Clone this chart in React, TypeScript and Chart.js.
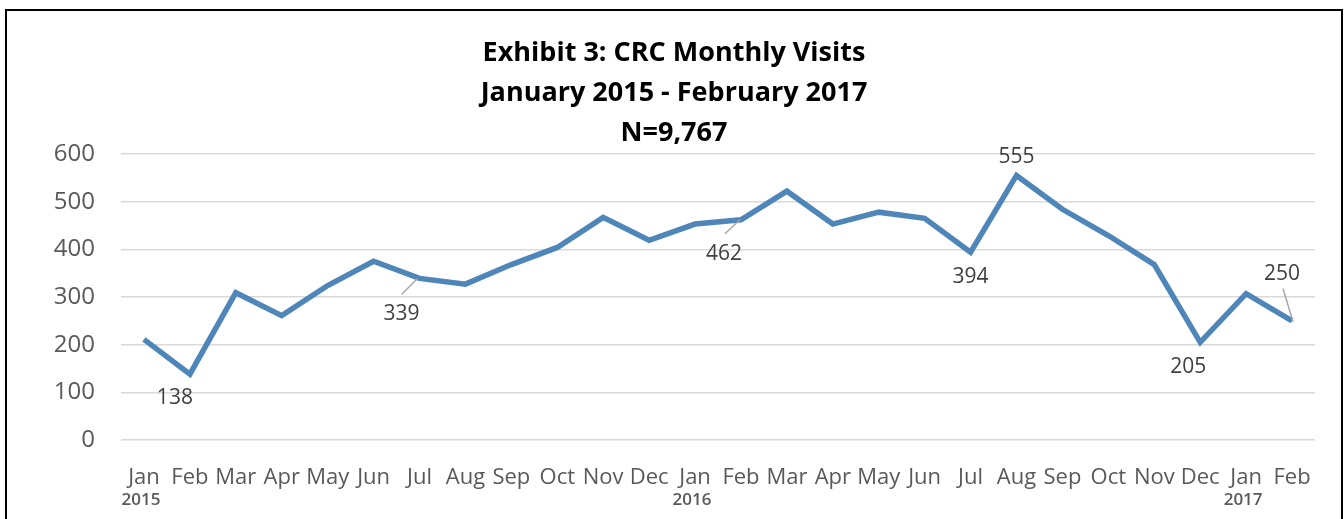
import React, { useEffect, useRef } from "react";
import { Chart, registerables } from "chart.js";

Chart.register(...registerables);

const months = ["Jan", "Feb", "Mar", "Apr", "May", "Jun", "Jul", "Aug", "Sep", "Oct", "Nov", "Dec",
  "Jan", "Feb", "Mar", "Apr", "May", "Jun", "Jul", "Aug", "Sep", "Oct", "Nov", "Dec",
  "Jan", "Feb"];
const years = ["2015", "", "", "", "", "", "", "", "", "", "", "",
  "2016", "", "", "", "", "", "", "", "", "", "", "",
  "2017", ""];
const visits = [211, 138, 309, 261, 324, 375, 339, 327, 368, 404, 467, 419,
  453, 462, 522, 453, 478, 465, 394, 555, 484, 429, 368, 205,
  307, 250];
const yTicks = [0, 100, 200, 300, 400, 500, 600];
const titleLines = ["Exhibit 3: CRC Monthly Visits", "January 2015 - February 2017", "N=9,767"];

// indices of points that carry a value label
const labelledIdx = [1, 6, 13, 18, 19, 23, 25];

const FONT = "'Open Sans', 'Noto Sans', sans-serif";

// label placement (style): offset of label centre from point, optional leader line
const labelStyle: Record<number, { dx: number; dy: number; leader?: [number, number, number, number] }> = {
  1: { dx: -15, dy: 24 },
  6: { dx: -18, dy: 36, leader: [-2, 0, -18, 16] },
  13: { dx: -17, dy: 34, leader: [-1, 0, -16, 14] },
  18: { dx: 0, dy: 25 },
  19: { dx: 0, dy: -18 },
  23: { dx: -12, dy: 25 },
  25: { dx: -10, dy: -47, leader: [1, 1, -9, -32] },
};

const annotatePlugin = {
  id: "annotate",
  afterDraw(chart: any) {
    const ctx = chart.ctx;
    ctx.save();
    // title, centred on the whole canvas
    ctx.fillStyle = "#000000";
    ctx.font = `bold 27px ${FONT}`;
    ctx.textAlign = "center";
    ctx.textBaseline = "middle";
    titleLines.forEach((t, i) => {
      ctx.fillText(t, chart.width / 2, 42 + i * 40);
    });
    ctx.restore();
  },
  afterDatasetsDraw(chart: any) {
    const ctx = chart.ctx;
    const meta = chart.getDatasetMeta(0);
    ctx.save();
    labelledIdx.forEach((i) => {
      const pt = meta.data[i];
      const st = labelStyle[i];
      if (!pt || !st) return;
      if (st.leader) {
        ctx.strokeStyle = "#A6A6A6";
        ctx.lineWidth = 1.5;
        ctx.beginPath();
        ctx.moveTo(pt.x + st.leader[0], pt.y + st.leader[1]);
        ctx.lineTo(pt.x + st.leader[2], pt.y + st.leader[3]);
        ctx.stroke();
      }
      ctx.fillStyle = "#404040";
      ctx.font = `21px ${FONT}`;
      ctx.textAlign = "center";
      ctx.textBaseline = "middle";
      ctx.fillText(String(visits[i]), pt.x + st.dx, pt.y + st.dy);
    });
    // year labels under the month ticks
    const xs = chart.scales.x;
    ctx.fillStyle = "#595959";
    ctx.font = `600 17px ${FONT}`;
    ctx.textAlign = "center";
    ctx.textBaseline = "middle";
    years.forEach((y, i) => {
      if (!y) return;
      ctx.fillText(y, xs.getPixelForValue(i) - 3, chart.chartArea.bottom + 60);
    });
    ctx.restore();
  },
};

export default function App() {
  const ref = useRef<HTMLCanvasElement>(null);
  useEffect(() => {
    if (!ref.current) return;
    const chart = new Chart(ref.current, {
      type: "line",
      data: {
        labels: months,
        datasets: [
          {
            data: visits,
            borderColor: "#4F86BA",
            borderWidth: 5.5,
            pointRadius: 0,
            tension: 0,
            fill: false,
          },
        ],
      },
      options: {
        animation: false,
        responsive: false,
        layout: { padding: { left: 0, right: 26, top: 143, bottom: 0 } },
        plugins: {
          legend: { display: false },
          tooltip: { enabled: false },
          title: { display: false },
        },
        scales: {
          x: {
            offset: true,
            grid: { display: false, drawTicks: false },
            border: { display: false },
            ticks: {
              color: "#595959",
              font: { family: FONT, size: 22 },
              padding: 25,
              autoSkip: false,
              maxRotation: 0,
              minRotation: 0,
            },
            afterFit: (s: any) => {
              s.height = 79;
            },
          },
          y: {
            min: 0,
            max: 600,
            afterBuildTicks: (s: any) => {
              s.ticks = yTicks.map((v) => ({ value: v }));
            },
            grid: { color: "#D9D9D9", lineWidth: 1.5, drawTicks: false },
            border: { display: false },
            ticks: {
              color: "#595959",
              font: { family: FONT, size: 24 },
              padding: 26,
            },
            afterFit: (s: any) => {
              s.width = 114;
            },
          },
        },
      },
      plugins: [annotatePlugin],
    });
    return () => chart.destroy();
  }, []);

  return (
    <div
      style={{
        position: "fixed",
        left: 5,
        top: 9,
        width: 1338,
        height: 540,
        border: "2px solid #000",
        boxSizing: "border-box",
        background: "#fff",
      }}
    >
      <canvas ref={ref} width={1334} height={508} style={{ display: "block" }} />
    </div>
  );
}
